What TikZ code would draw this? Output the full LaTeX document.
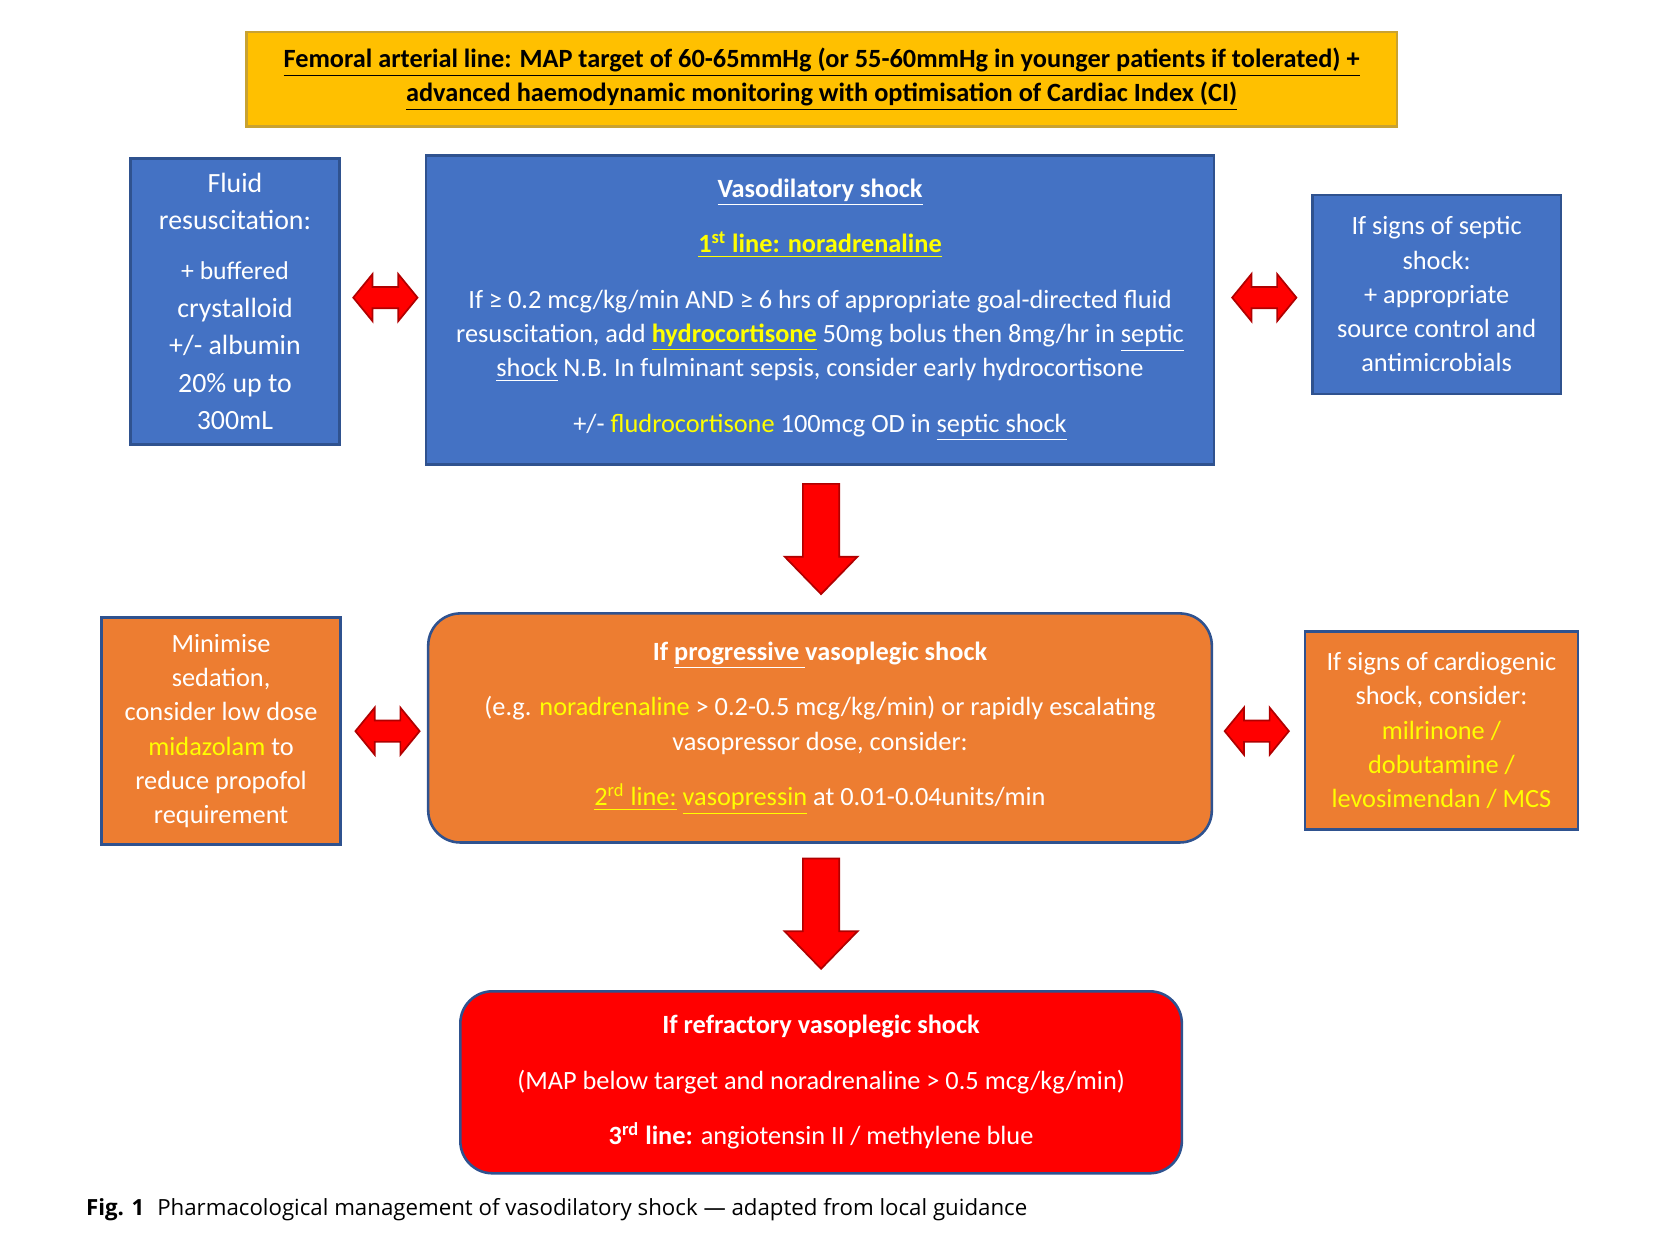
\documentclass[tikz,border=0pt]{standalone}
\usepackage{fontspec}
\setmainfont{Carlito}
\newfontfamily\capfont{Open Sans}
\newcommand\ul[1]{\underline{#1}}
\begin{document}
\begin{tikzpicture}[x=0.5pt,y=-0.5pt,
 box/.style={draw=#1,line width=1.2pt,inner sep=2pt,align=center,font=\fontsize{12.3}{16}\selectfont},
 bluebox/.style={box=bluedk,fill=blue1,text=white},
 orbox/.style={box=bluedk,fill=orng,text=white},
 arr/.style={fill=red,draw=arrdk,line width=0.8pt}]
\definecolor{blue1}{HTML}{4472C4}
\definecolor{bluedk}{HTML}{2F528F}
\definecolor{orng}{HTML}{ED7D31}
\definecolor{gold}{HTML}{FFC000}
\definecolor{golddk}{HTML}{C9A230}
\definecolor{yel}{HTML}{FFFF00}
\definecolor{arrdk}{HTML}{B00000}
\useasboundingbox (0,0) rectangle (1560,1157);
\newcommand\dblarr[2]{\draw[arr] (#1,#2) ++(-30,0) -- ++(18,-22) -- ++(0,12) -- ++(24,0) -- ++(0,-12) -- ++(18,22) -- ++(-18,22) -- ++(0,-12) -- ++(-24,0) -- ++(0,12) -- cycle;}
\newcommand\downarr[2]{\draw[arr] (#1,#2) ++(-17,0) -- ++(34,0) -- ++(0,68) -- ++(17,0) -- ++(-34,35) -- ++(-34,-35) -- ++(17,0) -- cycle;}

\node[box=golddk,fill=gold,minimum width=537.5pt,minimum height=44pt,font=\fontsize{12.3}{16}\selectfont\bfseries] (top) at (767.5,74)
 {\ul{Femoral arterial line: MAP target of 60-65mmHg (or 55-60mmHg in younger patients if tolerated) +}\\\ul{advanced haemodynamic monitoring with optimisation of Cardiac Index (CI)}};

\node[bluebox,minimum width=97.5pt,minimum height=133.5pt,font=\fontsize{13}{17.5}\selectfont] (fluid) at (219.5,281.5)
 {Fluid\\resuscitation:\\[6pt]\fontsize{12}{15}\selectfont + buffered\\crystalloid\\+/- albumin\\20\% up to\\300mL};

\node[bluebox,minimum width=368pt,minimum height=144.5pt] (vaso) at (766,289.5)
 {\textbf{\ul{Vasodilatory shock}}\\[10pt]
 \textcolor{yel}{\textbf{\ul{1\textsuperscript{st} line: noradrenaline}}}\\[10pt]
 If ≥ 0.2 mcg/kg/min AND ≥ 6 hrs of appropriate goal-directed fluid\\
 resuscitation, add \textcolor{yel}{\textbf{\ul{hydrocortisone}}} 50mg bolus then 8mg/hr in \ul{septic}\\
 \ul{shock} N.B. In fulminant sepsis, consider early hydrocortisone\\[10pt]
 +/- \textcolor{yel}{fludrocortisone} 100mcg OD in \ul{septic shock}};

\node[bluebox,minimum width=116pt,minimum height=93pt] (septic) at (1342,275)
 {If signs of septic\\shock:\\+ appropriate\\source control and\\antimicrobials};

\dblarr{360}{278}
\dblarr{1181}{278}
\downarr{767}{452}

\node[orbox,rounded corners=15pt,minimum width=366pt,minimum height=107pt] (prog) at (766,680)
 {\textbf{If \ul{progressive\ }vasoplegic shock}\\[10pt]
 (e.g. \textcolor{yel}{noradrenaline} > 0.2-0.5 mcg/kg/min) or rapidly escalating\\
 vasopressor dose, consider:\\[10pt]
 \textcolor{yel}{\ul{2\textsuperscript{rd} line:} \ul{vasopressin}} at 0.01-0.04units/min};

\node[orbox,minimum width=111.5pt,minimum height=106pt] (sed) at (206.5,683)
 {Minimise\\sedation,\\consider low dose\\\textcolor{yel}{midazolam} to\\reduce propofol\\requirement};

\node[orbox,minimum width=127.5pt,minimum height=92.5pt] (card) at (1346.5,682.5)
 {If signs of cardiogenic\\shock, consider:\\\textcolor{yel}{milrinone /}\\\textcolor{yel}{dobutamine /}\\\textcolor{yel}{levosimendan / MCS}};

\dblarr{362}{683}
\dblarr{1174}{683}
\downarr{767}{802}

\node[box=bluedk,fill=red,text=white,rounded corners=15pt,minimum width=337pt,minimum height=85pt] (refr) at (767,1011)
 {\textbf{If refractory vasoplegic shock}\\[10pt]
 (MAP below target and noradrenaline > 0.5 mcg/kg/min)\\[10pt]
 \textbf{3\textsuperscript{rd} line:} angiotensin II / methylene blue};

\node[anchor=west,inner sep=0,font=\capfont\fontsize{10.4}{13}\selectfont] (cap) at (80,1130)
 {\textbf{Fig. 1}\hspace{6pt}Pharmacological management of vasodilatory shock — adapted from local guidance};
\end{tikzpicture}
\end{document}
